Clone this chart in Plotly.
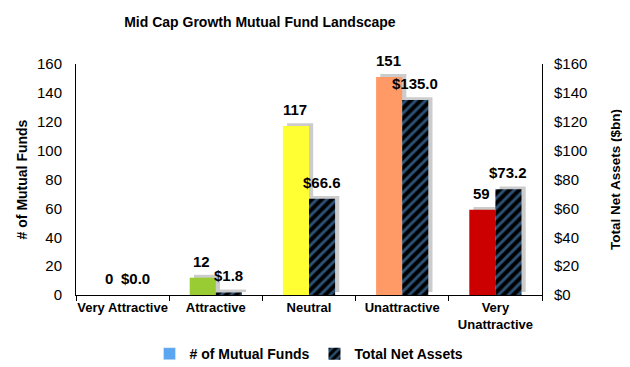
import plotly.graph_objects as go

categories = ["Very Attractive", "Attractive", "Neutral", "Unattractive", "Very<br>Unattractive"]
fund_counts = [0, 12, 117, 151, 59]
net_assets = [0.0, 1.8, 66.6, 135.0, 73.2]
bar_colors = ["#2e7d32", "#99cc33", "#ffff33", "#ff9966", "#cc0000"]
left_ticks = [0, 20, 40, 60, 80, 100, 120, 140, 160]
right_ticks = [0, 20, 40, 60, 80, 100, 120, 140, 160]

FONT = "Liberation Sans, Arial, sans-serif"
BLUE = "#5aa6f0"
SHADOW = "rgba(0,0,0,0.2)"
BW = 0.28          # bar width (category units)
SH_DX = 0.045      # shadow horizontal shift (category units)
SH_DY = 2.0        # shadow vertical lift (axis units)

fig = go.Figure()
# series 1: shadow then bars (left axis)
fig.add_trace(go.Bar(x=categories, y=fund_counts, base=SH_DY, width=BW, offset=-BW + SH_DX,
                     marker=dict(color=SHADOW, line=dict(width=0)),
                     yaxis="y", showlegend=False, hoverinfo="skip"))
fig.add_trace(go.Bar(
    x=categories, y=fund_counts, name="<b># of Mutual Funds</b>", width=BW, offset=-BW,
    marker=dict(color=bar_colors, line=dict(width=0)),
    showlegend=False, yaxis="y",
))
# legend proxy for the first series
fig.add_trace(go.Bar(
    x=[categories[0]], y=[None], name="<b># of Mutual Funds</b>",
    marker=dict(color=BLUE), showlegend=True, yaxis="y",
))
# series 2: shadow then bars (right axis)
fig.add_trace(go.Bar(x=categories, y=net_assets, base=SH_DY, width=BW, offset=SH_DX,
                     marker=dict(color=SHADOW, line=dict(width=0)),
                     yaxis="y2", showlegend=False, hoverinfo="skip"))
fig.add_trace(go.Bar(
    x=categories, y=net_assets, name="<b>Total Net Assets</b>", width=BW, offset=0,
    marker=dict(color="black", line=dict(width=0),
                pattern=dict(shape="/", fgcolor=BLUE, bgcolor="black", size=7, solidity=0.42)),
    showlegend=True, yaxis="y2",
))

annotations = []
for c, v in zip(categories, fund_counts):
    annotations.append(dict(x=c, y=v, xref="x", yref="y", text=f"<b>{v}</b>",
                            showarrow=False, xshift=-14, yshift=6, yanchor="bottom",
                            font=dict(size=15, family=FONT, color="black")))
for c, v in zip(categories, net_assets):
    annotations.append(dict(x=c, y=v, xref="x", yref="y2", text=f"<b>${v:.1f}</b>",
                            showarrow=False, xshift=13, yshift=6, yanchor="bottom",
                            font=dict(size=15, family=FONT, color="black")))

fig.update_layout(
    width=622, height=359,
    margin=dict(l=68, r=88, t=56, b=72, autoexpand=False),
    paper_bgcolor="white", plot_bgcolor="white",
    font=dict(family=FONT, size=15, color="black"),
    title=dict(text="<b>Mid Cap Growth Mutual Fund Landscape</b>", x=0.405, xanchor="center",
               y=0.961, yanchor="middle", font=dict(size=14, family=FONT)),
    barmode="overlay",
    annotations=annotations,
    legend=dict(orientation="h", x=0.5, xanchor="center", yref="container",
                y=0.036, yanchor="middle",
                traceorder="normal", font=dict(size=14, family=FONT),
                itemwidth=30),
    xaxis=dict(showline=True, linecolor="black", linewidth=1, ticks="outside",
               tickson="boundaries", ticklen=5, tickcolor="black", automargin=False,
               range=[-0.5, 4.5], tickangle=0,
               tickfont=dict(size=13, family=FONT), tickprefix="<b>", ticksuffix="</b>"),
    yaxis=dict(range=[0, 160], tickvals=left_ticks, showline=True, linecolor="black",
               linewidth=1, showgrid=False, zeroline=False, ticks="", automargin=False,
               ticklabelstandoff=10, tickfont=dict(size=15),
               title=dict(text="<b># of Mutual Funds</b>", font=dict(size=14), standoff=6)),
    yaxis2=dict(range=[0, 160], tickvals=right_ticks, ticktext=[f"${v}" for v in right_ticks],
                overlaying="y", side="right", showline=True, linecolor="black",
                linewidth=1, showgrid=False, zeroline=False, ticks="", automargin=False,
                ticklabelstandoff=8, tickfont=dict(size=15),
                title=dict(text="<b>Total Net Assets ($bn)</b>", font=dict(size=13.5), standoff=24)),
)

fig.write_html("out.html")
